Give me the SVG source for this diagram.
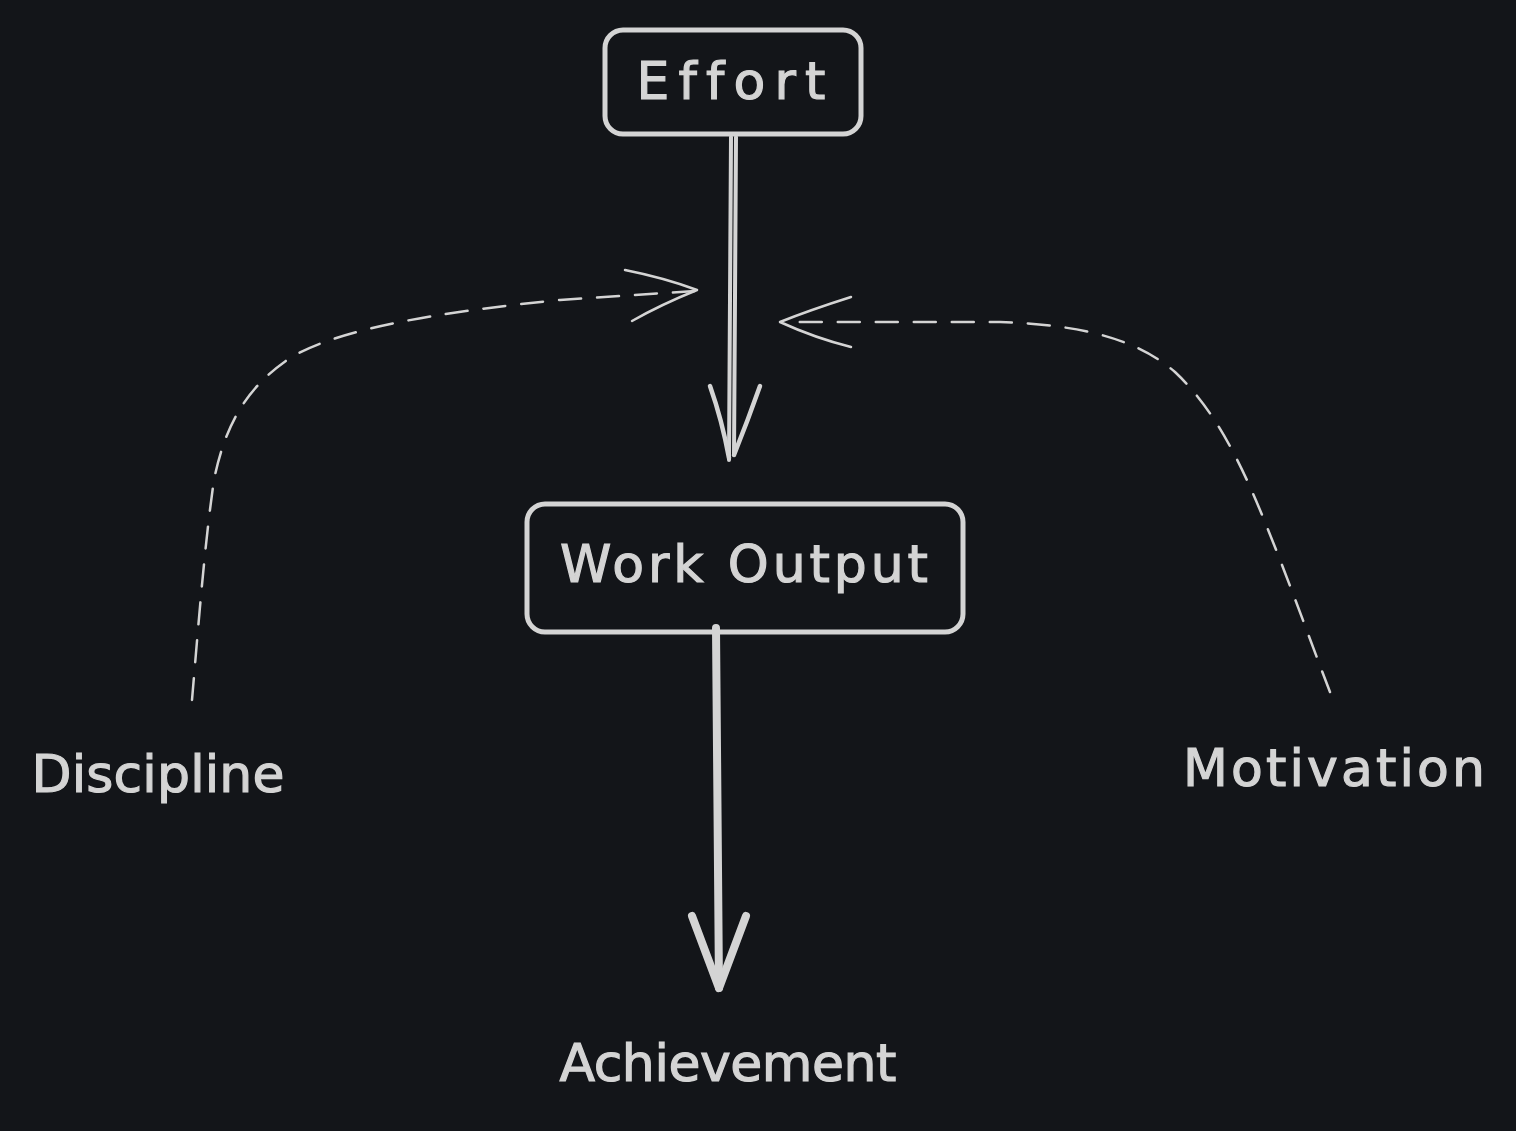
<svg xmlns="http://www.w3.org/2000/svg" width="1516" height="1131" viewBox="0 0 1516 1131">
<style>
.box{fill:none;stroke:#d4d4d4;stroke-width:5;stroke-linejoin:round}
.lbl{font-family:"DejaVu Sans","Liberation Sans",sans-serif;font-size:52px;fill:#d4d4d4;stroke:#d4d4d4;stroke-width:1.2;text-anchor:middle;font-variant-ligatures:none;font-feature-settings:"liga" 0}
.dash{fill:none;stroke:#d4d4d4;stroke-width:2.5;stroke-dasharray:22 16;stroke-linecap:round}
.head{fill:none;stroke:#d4d4d4;stroke-width:2.5;stroke-linecap:round;stroke-linejoin:round}
.main{fill:none;stroke:#d4d4d4;stroke-linecap:round;stroke-linejoin:round}
</style>
<rect width="1516" height="1131" fill="#131519"/>
<g id="effort">
<rect class="box" x="605" y="30" width="256" height="104" rx="18"/>
<text class="lbl" x="731" y="99" textLength="189" lengthAdjust="spacing">Effort</text>
</g>
<g id="work-output">
<rect class="box" x="527" y="504" width="436" height="128" rx="18"/>
<text class="lbl" x="744" y="582" textLength="368" lengthAdjust="spacing">Work Output</text>
</g>
<g id="discipline">
<text class="lbl" x="158" y="792" textLength="253" lengthAdjust="spacing">Discipline</text>
</g>
<g id="motivation">
<text class="lbl" x="1334" y="786" textLength="302" lengthAdjust="spacing">Motivation</text>
</g>
<g id="achievement">
<text class="lbl" x="728" y="1081" textLength="337" lengthAdjust="spacing">Achievement</text>
</g>
<g id="connectors">
<path class="main" stroke-width="4" d="M731 137 L729 460 M736 137 L734 455"/>
<path class="main" stroke-width="4.5" d="M710 386 Q722 420 729 458 M760 386 Q748 420 734 455"/>
<path class="main" stroke-width="8" d="M716 628 L719 988"/>
<path class="main" stroke-width="8" d="M692 916 L719 988 L746 916"/>
<path class="dash" d="M192 700 C198 630 205 540 214 480 C226 420 250 385 290 358 C340 328 440 312 560 300 L695 291"/>
<path class="head" d="M625 270 Q665 278 697 290 Q660 305 632 321"/>
<path class="dash" d="M1330 692 C1310 640 1285 570 1260 510 C1235 450 1210 405 1175 372 C1140 342 1090 325 1000 322 L785 322"/>
<path class="head" d="M851 297 Q810 310 780 322 Q815 338 851 347"/>
</g>
</svg>
